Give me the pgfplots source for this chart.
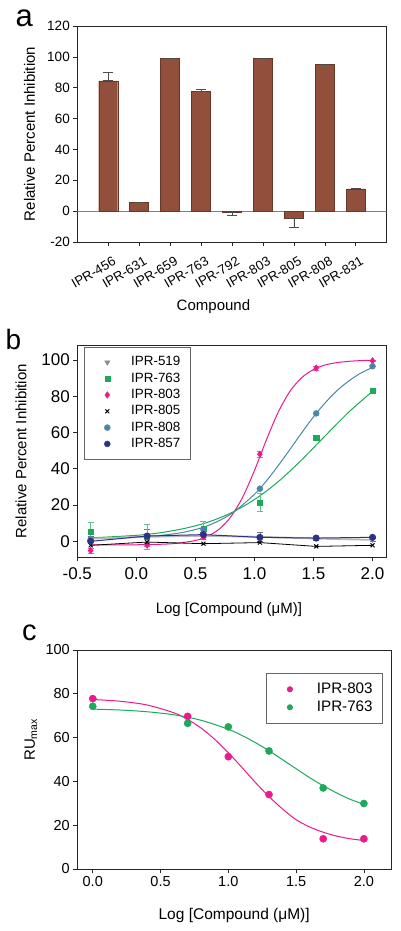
\documentclass[border=0pt]{standalone}
\usepackage{fontspec}
\setmainfont{Liberation Sans}
\usepackage{pgfplots}
\pgfplotsset{compat=1.18}
\definecolor{barbrown}{RGB}{146,80,60}
\definecolor{mag}{RGB}{235,25,140}
\definecolor{grn}{RGB}{30,168,90}
\definecolor{teal2}{RGB}{75,135,165}
\definecolor{navy2}{RGB}{45,50,135}
\definecolor{gry}{RGB}{150,150,150}
\pgfplotsset{
  base/.style={scale only axis, anchor=south west,
    axis line style={black!85, line width=0.8pt},
    tick align=outside, tick pos=left, major tick length=4pt,
    every tick/.style={black!85, line width=0.6pt},
    /pgf/number format/assume math mode=true},
  onedec/.style={/pgf/number format/fixed, /pgf/number format/fixed zerofill, /pgf/number format/precision=1},
}
\begin{document}
\begin{tikzpicture}
\useasboundingbox (0,0) rectangle (400pt,931pt);
% panel letters
\node[anchor=base west, inner sep=0pt, font=\fontsize{31}{31}\selectfont] at (15.5pt,904pt) {a};
\node[anchor=base west, inner sep=0pt, font=\fontsize{28}{28}\selectfont] at (5.5pt,581pt) {b};
\node[anchor=base west, inner sep=0pt, font=\fontsize{29}{29}\selectfont] at (22pt,290pt) {c};

% ---------------- panel a ----------------
\begin{axis}[base, at={(77.3pt,689pt)}, width=309.4pt, height=216pt,
  xmin=0, xmax=10, ymin=-20, ymax=120,
  ytick={-20,0,20,40,60,80,100,120},
  xtick={1,2,3,4,5,6,7,8,9},
  xticklabels={IPR-456,IPR-631,IPR-659,IPR-763,IPR-792,IPR-803,IPR-805,IPR-808,IPR-831},
  xticklabel style={rotate=30, anchor=north east, inner sep=0pt, xshift=3.5pt, yshift=-2pt, font=\fontsize{13.2}{13.2}\selectfont},
  xticklabel shift=10pt,
  yticklabel style={font=\fontsize{13.5}{13.5}\selectfont},
  ylabel={Relative Percent Inhibition},
  ylabel style={at={(axis description cs:-0.1545,0.5)}, anchor=center, font=\fontsize{15}{15}\selectfont},
  xlabel={Compound},
  xlabel style={at={(axis description cs:0.44,0)}, anchor=center, yshift=-65pt, font=\fontsize{15}{15}\selectfont},
]
\addplot[gray, line width=0.6pt, forget plot] coordinates {(0,0) (10,0)};
\addplot[ybar, bar width=19pt, fill=barbrown, draw=barbrown!70!black, line width=0.4pt,
  error bars/.cd, y dir=both, y explicit,
  error bar style={gray!60!black, line width=0.6pt},
  error mark options={rotate=90, mark size=5pt, gray!60!black, line width=0.6pt}]
coordinates {
 (1,84.5) += (0,5.5) -= (0,0)
 (2,5.5) += (0,0.3) -= (0,0)
 (3,99) += (0,0.3) -= (0,0)
 (4,77.5) += (0,1.2) -= (0,0)
 (5,-1) += (0,0) -= (0,1.5)
 (6,99) += (0,0.3) -= (0,0)
 (7,-4.5) += (0,0) -= (0,6)
 (8,95) += (0,0.3) -= (0,0)
 (9,14.5) += (0,0.5) -= (0,0)
};
\end{axis}

% ---------------- panel b ----------------
\begin{axis}[base, at={(77.3pt,373.7pt)}, width=309.4pt, height=212.3pt,
  xmin=-0.5, xmax=2.12, ymin=-8.8, ymax=108.2,
  xtick={-0.5,0,0.5,1,1.5,2}, ytick={0,20,40,60,80,100},
  tick label style={font=\fontsize{17}{17}\selectfont},
  xticklabel style={onedec, yshift=-3pt},
  ylabel={Relative Percent Inhibition},
  ylabel style={at={(axis description cs:-0.182,0.5)}, anchor=center, font=\fontsize{15}{15}\selectfont},
  xlabel={Log [Compound (μM)]},
  xlabel style={at={(axis description cs:0.49,0)}, anchor=center, yshift=-52.7pt, font=\fontsize{15}{15}\selectfont},
  legend style={at={(axis description cs:0.022,0.99)}, anchor=north west,
    draw=gray!80!black, line width=0.6pt, fill=white,
    inner xsep=10pt, inner ysep=8.5pt, row sep=3.3pt,
    nodes={inner sep=0pt, text height=10pt, text depth=3pt},
    font=\fontsize{13.4}{13.4}\selectfont},
  legend cell align=left,
  legend image code/.code={\path (0pt,0pt) (35pt,0pt); \draw[#1, line width=0.4pt] plot coordinates {(12pt,0pt)};},
]
% fitted curves
\addplot[mag, line width=1pt, smooth, forget plot] coordinates {
 (-0.387,-2.0)(0,-1.9)(0.3,-1.33)(0.5,0.46)(0.6,2.68)(0.7,6.64)(0.8,13.5)(0.9,24.3)(1.0,39.0)(1.1,55.7)(1.2,71.0)(1.3,82.6)(1.4,90.2)(1.5,94.7)(1.6,97.2)(1.7,98.5)(1.8,99.2)(1.9,99.6)(2.0,99.8)};
\addplot[teal2, line width=1pt, smooth, forget plot] coordinates {
 (-0.387,1.7)(0,2.4)(0.2,3.25)(0.4,5.0)(0.6,8.5)(0.8,15.0)(1.0,25.9)(1.1,33.2)(1.2,41.6)(1.3,50.6)(1.4,59.8)(1.5,68.6)(1.6,76.4)(1.7,83.1)(1.8,88.4)(1.9,92.7)(2.0,95.8)};
\addplot[grn, line width=1pt, smooth, forget plot] coordinates {
 (-0.387,1.9)(0,3.3)(0.2,4.7)(0.4,7.0)(0.6,10.4)(0.8,15.6)(1.0,23.0)(1.2,32.8)(1.4,44.9)(1.6,58.2)(1.8,71.3)(2.0,82.7)};
% data
\addplot[gray!55, line width=1.8pt, mark=triangle*, mark size=3pt,
  mark options={rotate=180, gray!90, line width=0.4pt},
  error bars/.cd, y dir=both, y explicit,
  error bar style={black!55, line width=0.6pt},
  error mark options={rotate=90, mark size=3pt, black!55, line width=0.6pt}]
coordinates {(-0.387,1.5) +- (0,1.5) (0.091,2.5) +- (0,4.2) (0.568,3.0) +- (0,2) (1.046,2.5) +- (0,2.5) (1.523,1.5) +- (0,1) (2.0,0.8) +- (0,0.8)};
\addlegendentry{IPR-519}
\addplot[only marks, grn, mark=square*, mark size=2.6pt,
  error bars/.cd, y dir=both, y explicit,
  error bar style={grn!70, line width=0.6pt},
  error mark options={rotate=90, mark size=3pt, grn!70, line width=0.6pt}]
coordinates {(-0.387,5.3) +- (0,5.2) (0.091,2.5) +- (0,6.8) (0.568,7.0) +- (0,3.8) (1.046,21.3) +- (0,5) (1.523,57) +- (0,1) (2.0,83) +- (0,1)};
\addlegendentry{IPR-763}
\addplot[only marks, mag, mark=diamond*, mark size=3.3pt,
  error bars/.cd, y dir=both, y explicit,
  error bar style={mag!70, line width=0.6pt},
  error mark options={rotate=90, mark size=3pt, mag!70, line width=0.6pt}]
coordinates {(-0.387,-5.1) +- (0,1.5) (0.091,-2.0) +- (0,1) (0.568,2.5) +- (0,1) (1.046,48) +- (0,1.5) (1.523,95.5) +- (0,1) (2.0,99.5) +- (0,0.5)};
\addlegendentry{IPR-803}
\addplot[black, line width=0.8pt, mark=x, mark size=2.8pt, mark options={line width=1pt}]
coordinates {(-0.387,-2.2) (0.091,-0.4) (0.568,-1.3) (1.046,-0.7) (1.523,-2.8) (2.0,-2.2)};
\addlegendentry{IPR-805}
\addplot[only marks, teal2, mark=*, mark size=3pt]
coordinates {(-0.387,1.0) (0.091,3.0) (0.568,6.5) (1.046,29) (1.523,70.5) (2.0,96.5)};
\addlegendentry{IPR-808}
\addplot[navy2, line width=1pt, mark=*, mark size=3pt]
coordinates {(-0.387,0) (0.091,2.9) (0.568,3.7) (1.046,2.2) (1.523,1.8) (2.0,2.2)};
\addlegendentry{IPR-857}
\end{axis}

% ---------------- panel c ----------------
\begin{axis}[base, at={(77.3pt,62pt)}, width=313.7pt, height=219pt,
  xmin=-0.114, xmax=2.2, ymin=0, ymax=100,
  xtick={0,0.5,1,1.5,2}, ytick={0,20,40,60,80,100},
  tick label style={font=\fontsize{14.5}{14.5}\selectfont},
  xticklabel style={onedec},
  ylabel={RU\textsubscript{max}},
  ylabel style={at={(axis description cs:-0.148,0.59)}, anchor=center, font=\fontsize{15}{15}\selectfont},
  xlabel={Log [Compound (μM)]},
  xlabel style={at={(axis description cs:0.5,0)}, anchor=center, yshift=-46pt, font=\fontsize{15.5}{15.5}\selectfont},
  legend style={at={(axis description cs:0.6015,0.895)}, anchor=north west,
    draw=gray!80!black, line width=0.6pt, fill=white,
    inner xsep=10pt, inner ysep=9pt, row sep=4pt,
    nodes={inner sep=0pt, text height=11pt, text depth=3pt},
    font=\fontsize{15.2}{15.2}\selectfont},
  legend cell align=left,
  legend image code/.code={\path (0pt,0pt) (40pt,0pt); \draw[#1, mark size=2.7pt] plot coordinates {(13.3pt,0pt)};},
]
\addplot[mag, line width=1pt, smooth, forget plot] coordinates {
 (0,77.4)(0.2,76.6)(0.4,74.9)(0.6,71.3)(0.7,68.3)(0.8,64.3)(0.9,59.2)(1.0,53.1)(1.1,46.4)(1.2,39.5)(1.3,33.1)(1.4,27.4)(1.5,22.5)(1.6,19.2)(1.7,16.8)(1.8,15.0)(1.9,13.8)(2.0,13.0)};
\addplot[grn, line width=1pt, smooth, forget plot] coordinates {
 (0,73.0)(0.2,72.6)(0.4,71.8)(0.6,70.4)(0.8,67.9)(1.0,63.8)(1.1,61.0)(1.2,57.7)(1.3,54.0)(1.4,49.9)(1.5,45.8)(1.6,41.7)(1.7,38.0)(1.8,34.7)(1.9,31.8)(2.0,29.5)};
\addplot[only marks, mag, mark=*, mark size=3.6pt]
coordinates {(0,77.8) (0.7,69.7) (1.0,51.3) (1.3,34) (1.7,13.8) (2.0,13.8)};
\addlegendentry{IPR-803}
\addplot[only marks, grn, mark=*, mark size=3.6pt]
coordinates {(0,74.3) (0.7,66.5) (1.0,64.9) (1.3,53.9) (1.7,37) (2.0,29.9)};
\addlegendentry{IPR-763}
\end{axis}
\end{tikzpicture}
\end{document}
